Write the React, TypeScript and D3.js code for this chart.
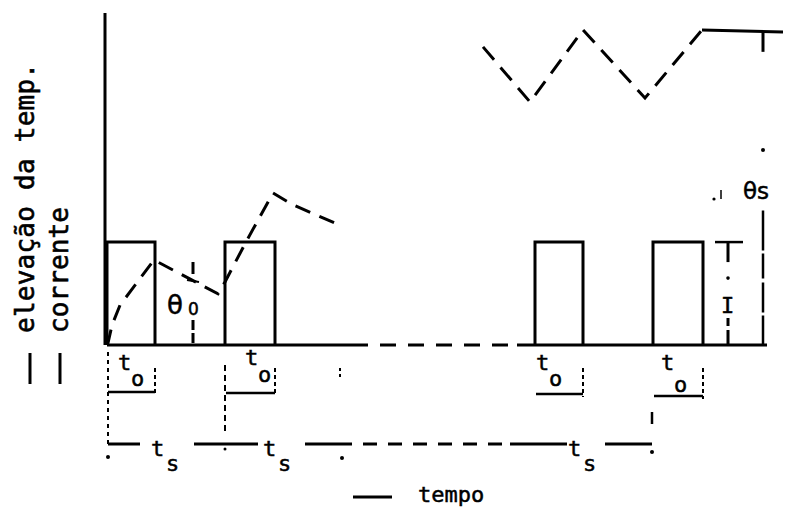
import { useRef, useEffect } from "react";
import * as d3 from "d3";

const W = 785;
const H = 508;

// corrente: pulse intervals (time units) and level
const pulseStarts = [0, 118, 428, 546];
const pulseEnds = [48, 168, 476, 596];
const pulseLevel = 31;

// elevação da temperatura, primeiros ciclos
const riseTimes = [0, 1, 5, 13, 26, 38, 47, 111, 118, 140, 166, 186, 228];
const riseTemps = [0, 0.6, 6, 12, 17.2, 22, 25.6, 15.4, 19, 31.6, 45.8, 42.2, 36.7];

// regime permanente
const steadyTimes = [376, 423, 476, 538, 595];
const steadyTemps = [89.8, 73.2, 94.9, 74.4, 94.9];
const plateauTimes = [595, 676];
const plateauTemps = [94.9, 94.3];

// t_o label offsets (from pulse start) and dimension rows
const toLabelDx = [13, 22, 3, 10];
const toDimRow = [392, 393, 394, 396];

// t_s dimension segments (solid / dashed) and labels
const tsSolid = [[1, 33], [87, 151], [198, 231], [403, 460], [498, 545]];
const tsDashed = [[231, 403]];
const tsLabelTimes = [46, 158, 463];

const MONO = "DejaVu Sans Mono, monospace";
const SANS = "DejaVu Sans, sans-serif";

export default function App() {
  const svgRef = useRef<SVGSVGElement>(null);

  useEffect(() => {
    if (!svgRef.current) return;
    const svg = d3.select(svgRef.current);
    svg.selectAll("*").remove();

    const x = d3.scaleLinear().domain([0, 660]).range([107, 767]);
    const y = d3.scaleLinear().domain([0, 100]).range([345, 13]);
    const y0 = y(0);
    const yp = y(pulseLevel);

    const line = (x1: number, y1: number, x2: number, y2: number, w = 3, dash?: string) => {
      const l = svg
        .append("line")
        .attr("x1", x1)
        .attr("y1", y1)
        .attr("x2", x2)
        .attr("y2", y2)
        .attr("stroke", "#000")
        .attr("stroke-width", w);
      if (dash) l.attr("stroke-dasharray", dash);
      return l;
    };
    const text = (tx: number, ty: number, s: string, size = 22, family = MONO) =>
      svg
        .append("text")
        .attr("x", tx)
        .attr("y", ty)
        .attr("font-family", family)
        .attr("font-size", size)
        .attr("stroke", "#000")
        .attr("stroke-width", 0.5)
        .attr("fill", "#000")
        .text(s);
    const dot = (cx: number, cy: number, r = 1.8) =>
      svg.append("circle").attr("cx", cx).attr("cy", cy).attr("r", r).attr("fill", "#000");

    // vertical axis
    line(x(-2), y(100), x(-2), y0, 3);

    // baseline: solid, dashed gap, solid
    line(x(0), y0, x(245), y0, 3);
    line(x(245), y0, x(410), y0, 3, "16 12");
    line(x(410), y0, x(660), y0, 3);

    // current pulses
    pulseStarts.forEach((s, i) => {
      const e = pulseEnds[i];
      svg
        .append("path")
        .attr("d", `M${x(s)},${y0}V${yp}H${x(e)}V${y0}`)
        .attr("fill", "none")
        .attr("stroke", "#000")
        .attr("stroke-width", 3);
    });

    // temperature curves
    const riseData = riseTimes.map((t, i) => [t, riseTemps[i]] as [number, number]);
    const steadyData = steadyTimes.map((t, i) => [t, steadyTemps[i]] as [number, number]);
    const plateauData = plateauTimes.map((t, i) => [t, plateauTemps[i]] as [number, number]);

    const path = d3
      .line<[number, number]>()
      .x((d) => x(d[0]))
      .y((d) => y(d[1]));

    svg
      .append("path")
      .attr("d", path(riseData))
      .attr("fill", "none")
      .attr("stroke", "#000")
      .attr("stroke-width", 3)
      .attr("stroke-dasharray", "16 10");

    svg
      .append("path")
      .attr("d", path(steadyData))
      .attr("fill", "none")
      .attr("stroke", "#000")
      .attr("stroke-width", 3)
      .attr("stroke-dasharray", "17 10");

    svg
      .append("path")
      .attr("d", path(plateauData))
      .attr("fill", "none")
      .attr("stroke", "#000")
      .attr("stroke-width", 3);

    // θs marker on the right
    const xs = x(656);
    line(xs, y(94.3), xs, y(88.3), 3);
    dot(xs, y(58.7), 2);
    line(xs, y(40.5), xs, y0, 2.5, "40 3 25 4 30 3");
    dot(714, 199, 1.6);
    line(721, 190, 721, 199, 1.5);
    text(743, 199, "θs", 23, SANS);

    // I marker
    const xi = x(621);
    line(xi - 13, yp, xi + 15, yp, 2.5);
    line(xi, yp, xi, yp + 20, 3);
    dot(xi, yp + 36, 1.8);
    text(xi - 7, 313, "I", 22, MONO);
    line(xi, 318, xi, y0, 3, "8 4 14 3");

    // θ0 marker
    const xt = x(86);
    line(xt, 262, xt, 274, 3);
    line(xt - 6, 280, xt + 6, 282, 2);
    line(xt, 320, xt, y0, 3, "10 3 10");
    text(167, 314, "θ", 26, SANS);
    text(188, 315, "0", 17, SANS);

    // t_o labels and dimensions
    pulseStarts.forEach((s, i) => {
      const e = pulseEnds[i];
      const lx = x(s) + toLabelDx[i];
      const row = toDimRow[i];
      text(lx - 2, i === 1 ? 365 : 370, "t", 22);
      text(lx + 11, i === 3 ? 392 : i === 1 ? 382 : 386, "o", 22);
      line(x(s) + 1, row, x(e), row, 2.5);
      line(x(e), 368, x(e), row + 3, 2, "4 3");
    });
    line(x(1), 352, x(1), 445, 2, "4 4");
    line(x(118), 365, x(118), 432, 2, "6 4");
    line(x(545), 412, x(545), 424, 2.5);
    line(x(233), 368, x(233), 379, 2, "3 3");

    // t_s dimensions
    tsSolid.forEach(([a, b]) => line(x(a), 444, x(b), 444, 3));
    tsDashed.forEach(([a, b]) => line(x(a), 444, x(b), 444, 3, "14 11"));
    tsLabelTimes.forEach((t) => {
      text(x(t) - 2, 456, "t", 22);
      text(x(t) + 13, 471, "s", 22);
    });
    dot(x(1), 457, 2);
    dot(x(235), 458, 2);
    dot(x(545), 452, 2);
    dot(x(118), 449, 1.5);

    // axis titles (rotated)
    svg
      .append("text")
      .attr("transform", `translate(34,333) rotate(-90)`)
      .attr("font-family", MONO)
      .attr("font-size", 26)
      .attr("textLength", 270)
      .attr("stroke", "#000")
      .attr("stroke-width", 0.6)
      .attr("fill", "#000")
      .text("elevação da temp.");
    svg
      .append("text")
      .attr("transform", `translate(68,333) rotate(-90)`)
      .attr("font-family", MONO)
      .attr("font-size", 26)
      .attr("textLength", 126)
      .attr("stroke", "#000")
      .attr("stroke-width", 0.6)
      .attr("fill", "#000")
      .text("corrente");
    line(30, 353, 30, 384, 3);
    line(60, 353, 60, 384, 3);

    // tempo
    line(353, 497, 392, 497, 3);
    text(418, 502, "tempo", 22);
  }, []);

  return (
    <div style={{ position: "absolute", left: 0, top: 0, width: W, height: H, background: "#fff" }}>
      <svg ref={svgRef} width={W} height={H} />
    </div>
  );
}
